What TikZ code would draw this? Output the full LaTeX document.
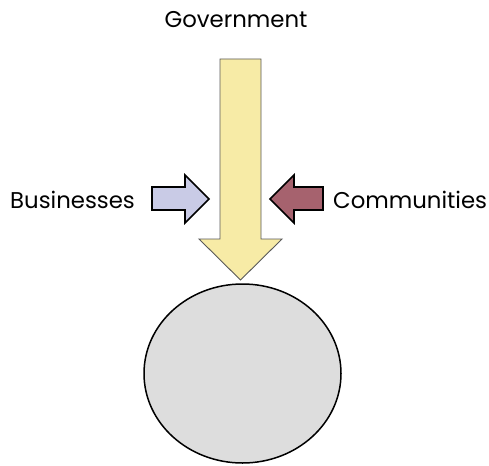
\documentclass[tikz,border=0pt]{standalone}
\usepackage{fontspec}
\setmainfont{Poppins}
\usetikzlibrary{shapes.geometric}
\definecolor{govyellow}{HTML}{F7EBA6}
\definecolor{buslav}{HTML}{C9CBE6}
\definecolor{commred}{HTML}{A6626E}
\definecolor{ballgray}{HTML}{DDDDDD}
\begin{document}
\begin{tikzpicture}[x=1pt,y=-1pt,
  lbl/.style={font=\fontsize{22.8}{26}\selectfont, inner sep=0pt, anchor=center},
  smallarrow/.style={draw=black, line width=1.6pt, line join=miter},
  bigarrow/.style={draw=black!65, line width=0.9pt, fill=govyellow, line join=miter}]
\useasboundingbox (0,0) rectangle (489,465);
% target ellipse
\node[draw=black, line width=1.5pt, fill=ballgray, ellipse, minimum width=197pt, minimum height=179pt, inner sep=0pt] (ball) at (242.5,373.5) {};
% big arrow
\draw[bigarrow] (220,59) -- (261,59) -- (261,239) -- (282,239) -- (240.5,280) -- (199,239) -- (220,239) -- cycle;
\coordinate (govtip) at (240.5,280);
% small arrows
\draw[smallarrow, fill=buslav] (152,187) -- (185,187) -- (185,175) -- (209,199) -- (185,223) -- (185,210) -- (152,210) -- cycle;
\draw[smallarrow, fill=commred] (323,187) -- (294,187) -- (294,175) -- (270,199) -- (294,223) -- (294,210) -- (323,210) -- cycle;
% labels
\node[lbl] (gov) at (236,20) {Government};
\node[lbl, anchor=west] (bus) at (10,200) {Businesses};
\node[lbl, anchor=west] (com) at (333,200) {Communities};
\end{tikzpicture}
\end{document}
